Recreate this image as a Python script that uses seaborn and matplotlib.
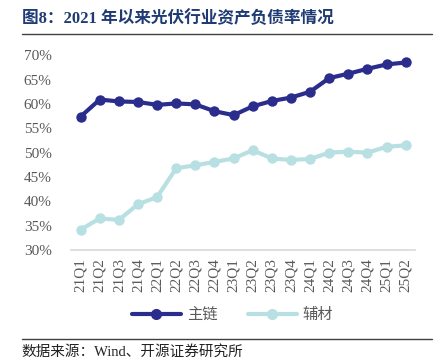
import numpy as np
import pandas as pd
import matplotlib
matplotlib.use("Agg")
import matplotlib.pyplot as plt
import seaborn as sns
from matplotlib.lines import Line2D

# data
quarters = ['21Q1', '21Q2', '21Q3', '21Q4', '22Q1', '22Q2', '22Q3', '22Q4', '23Q1',
            '23Q2', '23Q3', '23Q4', '24Q1', '24Q2', '24Q3', '24Q4', '25Q1', '25Q2']
main_chain = [57.4, 60.9, 60.5, 60.4, 59.8, 60.1, 59.9, 58.5, 57.7,
              59.5, 60.6, 61.3, 62.5, 65.3, 66.2, 67.2, 68.1, 68.5]
aux_mat = [34.2, 36.5, 36.2, 39.4, 40.9, 46.8, 47.4, 48.1, 48.8,
           50.5, 48.8, 48.5, 48.7, 50.0, 50.2, 50.0, 51.2, 51.5]
series_names = ['主链', '辅材']
yticks = [30, 35, 40, 45, 50, 55, 60, 65, 70]

title = '图8：2021 年以来光伏行业资产负债率情况'
source = '数据来源：Wind、开源证券研究所'

sns.set_style("white")
plt.rcParams['font.family'] = ['Liberation Serif', 'Noto Sans CJK SC', 'DejaVu Sans']

dark = '#2B2D8C'
light = '#B8E0E2'
grey = '#595959'

df = pd.DataFrame({'x': np.arange(len(quarters)), 'main': main_chain, 'aux': aux_mat})

fig = plt.figure(figsize=(4.47, 3.63), dpi=100)
ax = fig.add_axes([0.159, 0.311, 0.770, 0.537])

sns.lineplot(data=df, x='x', y='aux', ax=ax, color=light, lw=3, marker='o',
             markersize=7.5, markeredgewidth=0, zorder=2)
sns.lineplot(data=df, x='x', y='main', ax=ax, color=dark, lw=3, marker='o',
             markersize=7.5, markeredgewidth=0, zorder=3)

ax.set_xlim(-0.5, len(quarters) - 0.5)
ax.set_ylim(30, 70)
ax.set_yticks(yticks)
ax.set_yticklabels([f'{v}%' for v in yticks], fontsize=11, color=grey)
ax.set_xticks(np.arange(len(quarters)))
ax.set_xticklabels(quarters, rotation=90, fontsize=11, color=grey)
ax.set_xticks(np.arange(len(quarters) + 1) - 0.5, minor=True)
ax.tick_params(axis='x', which='major', length=0, pad=6)
ax.tick_params(axis='x', which='minor', length=4, direction='in', color='#D9D9D9', width=1)
ax.tick_params(axis='y', length=0, pad=14)
ax.set_xlabel('')
ax.set_ylabel('')
for s in ['top', 'right', 'left']:
    ax.spines[s].set_visible(False)
ax.spines['bottom'].set_color('#D9D9D9')
ax.spines['bottom'].set_linewidth(1.2)

handles = [Line2D([0], [0], color=dark, lw=3, marker='o', markersize=8, markeredgewidth=0),
           Line2D([0], [0], color=light, lw=3, marker='o', markersize=8, markeredgewidth=0)]
leg = fig.legend(handles, series_names, loc='center', bbox_to_anchor=(0.52, 0.132), ncol=2,
                 frameon=False, fontsize=11, handlelength=3.2, columnspacing=2.0, handletextpad=0.4)
for t in leg.get_texts():
    t.set_color(grey)

fig.text(0.049, 0.95, title, fontsize=12, fontweight='bold', color='#1F3B73', va='center')
fig.add_artist(Line2D([0.049, 0.966], [0.906, 0.906], color='#404040', lw=1))
fig.add_artist(Line2D([0.049, 0.966], [0.066, 0.066], color='#404040', lw=1))
fig.text(0.049, 0.03, source, fontsize=10.5, color='#222222', va='center')

fig.savefig('out.png', dpi=100)
